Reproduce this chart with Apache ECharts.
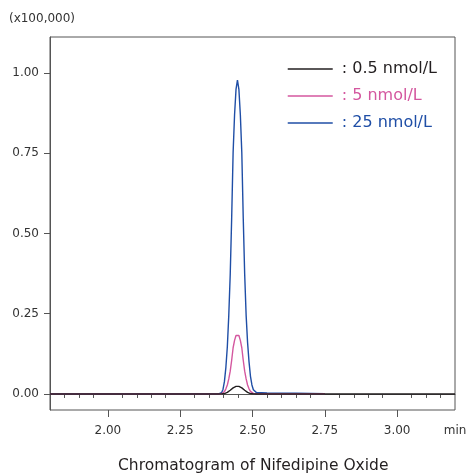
<!DOCTYPE html>
<html><head><meta charset="utf-8">
<script src="https://cdn.jsdelivr.net/npm/echarts@6/dist/echarts.min.js"></script>
<style>html,body{margin:0;padding:0;background:#fff}#c{width:467px;height:474px}</style>
</head><body><div id="c"></div>
<script>
// Retention time (min)
const times = [1.80, 2.383, 2.388, 2.393, 2.398, 2.403, 2.408, 2.413, 2.418, 2.423, 2.428, 2.433, 2.438, 2.443, 2.448, 2.453, 2.458, 2.463, 2.468, 2.473, 2.478, 2.483, 2.488, 2.493, 2.498, 2.503, 2.508, 2.513, 2.550, 2.650, 2.750, 3.20];
// Intensity (x100,000)
const conc05 = [0, 0, 0, 0.0002, 0.0005, 0.0013, 0.0027, 0.0048, 0.0078, 0.0115, 0.0155, 0.019, 0.022, 0.0235, 0.024, 0.0235, 0.022, 0.019, 0.0155, 0.0115, 0.0078, 0.0048, 0.0027, 0.0013, 0.0005, 0.0002, 0, 0, 0, 0, 0, 0];
const conc5 = [0, 0, 0.0002, 0.0008, 0.0026, 0.0075, 0.016, 0.028, 0.047, 0.071, 0.105, 0.144, 0.167, 0.182, 0.1875, 0.182, 0.167, 0.144, 0.105, 0.071, 0.047, 0.028, 0.016, 0.008, 0.0035, 0.0018, 0.0012, 0.001, 0.0008, 0.0006, 0.0005, null];
const conc25 = [0, 0, 0.001, 0.004, 0.014, 0.039, 0.083, 0.147, 0.245, 0.372, 0.548, 0.753, 0.870, 0.949, 0.978, 0.949, 0.870, 0.753, 0.548, 0.372, 0.245, 0.160, 0.100, 0.055, 0.028, 0.013, 0.007, 0.005, 0.003, 0.002, 0.001, null];
const seriesNames = ['0.5 nmol/L', '5 nmol/L', '25 nmol/L'];
const seriesColors = ['#231f20', '#d4579f', '#1f4ea6'];
const xLabelValues = [2.00, 2.25, 2.50, 2.75, 3.00, 3.20];
const xMajorTicks = [2.00, 2.25, 2.50, 2.75, 3.00];
const xMinorTicks = [1.85, 1.90, 1.95, 2.05, 2.10, 2.15, 2.20, 2.30, 2.35, 2.40, 2.45, 2.55, 2.60, 2.65, 2.70, 2.80, 2.85, 2.90, 2.95, 3.05, 3.10, 3.15];
const yLabelValues = [0, 0.25, 0.5, 0.75, 1.0];

const font = '"DejaVu Sans", "Open Sans", sans-serif';
const pair = arr => times.map((t, i) => [t, arr[i]]);
const allData = [conc05, conc5, conc25];

const chart = echarts.init(document.getElementById('c'), null, {renderer: 'canvas'});
const order = [2, 1, 0];
chart.setOption({
  animation: false,
  textStyle: {fontFamily: font},
  grid: {left: 50, right: 12, top: 37, bottom: 64, show: true, borderColor: '#555', borderWidth: 1,
    containLabel: false, outerBoundsMode: 'none'},
  title: {
    text: 'Chromatogram of Nifedipine Oxide',
    left: 113, top: 453,
    textStyle: {fontFamily: font, fontSize: 15.5, fontWeight: 'normal', color: '#231f20'}
  },
  legend: {
    orient: 'vertical', right: 25, top: 55,
    itemWidth: 45, itemHeight: 1.5, itemGap: 9,
    icon: 'rect',
    data: seriesNames.map((n, i) => ({name: n, textStyle: {color: seriesColors[i]}})),
    formatter: n => ': ' + n,
    textStyle: {fontFamily: font, fontSize: 16, lineHeight: 18, padding: [0, 0, 0, 4]}
  },
  xAxis: [{
    type: 'value', min: 1.8, max: 3.2,
    axisLine: {show: true, lineStyle: {color: '#555'}},
    axisTick: {show: true, customValues: xMinorTicks, length: 4, lineStyle: {color: '#555'}},
    axisLabel: {customValues: xLabelValues, color: '#333', fontSize: 12, margin: 15,
      formatter: v => (Math.abs(v - 3.2) < 1e-6 ? 'min' : v.toFixed(2))},
    splitLine: {show: false}
  }, {
    type: 'value', min: 1.8, max: 3.2, position: 'bottom',
    axisLine: {show: false},
    axisTick: {show: true, customValues: xMajorTicks, length: 7, lineStyle: {color: '#555'}},
    axisLabel: {show: false},
    splitLine: {show: false}
  }],
  yAxis: {
    type: 'value', min: -0.05, max: 1.1125,
    name: '(x100,000)', nameLocation: 'end', nameGap: 12,
    nameTextStyle: {color: '#333', fontSize: 12, align: 'center', padding: [0, 16, 0, 0]},
    axisLine: {show: true, lineStyle: {color: '#555'}},
    axisTick: {show: true, customValues: yLabelValues, length: 6, lineStyle: {color: '#555'}},
    axisLabel: {customValues: yLabelValues, color: '#333', fontSize: 12, margin: 11, formatter: v => v.toFixed(2)},
    splitLine: {show: false}
  },
  series: order.map(i => ({
    name: seriesNames[i], type: 'line', data: pair(allData[i]),
    showSymbol: false, symbol: 'none', connectNulls: false,
    lineStyle: {color: seriesColors[i], width: 1.4},
    itemStyle: {color: seriesColors[i]}
  }))
});
</script></body></html>
